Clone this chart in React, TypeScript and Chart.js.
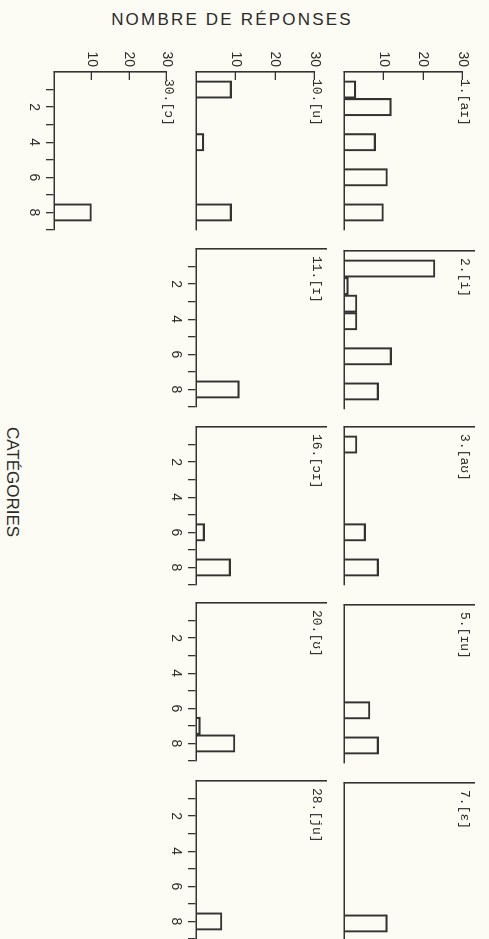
import React, { useEffect, useRef } from 'react';
import { Chart, registerables } from 'chart.js';

Chart.register(...registerables);

// ---------- data ----------
// category positions on each panel's axis (0 and 9 are the axis ends)
const AXIS_POSITIONS = ['0', '1', '2', '3', '4', '5', '6', '7', '8', '9'];
const CATEGORY_TICK_LABELS = ['2', '4', '6', '8'];
const VALUE_TICK_LABELS = [10, 20, 30];
const VALUE_MAX = 30;

// number of responses per category 1..8
const P1_AI = [3, 12, 0, 8, 0, 11, 0, 10];
const P2_I = [21, 1, 3, 3, 0, 11, 0, 8];
const P3_AU = [3, 0, 0, 0, 0, 5, 0, 8];
const P5_IU = [0, 0, 0, 0, 0, 6, 0, 8];
const P7_E = [0, 0, 0, 0, 0, 0, 0, 10];
const P10_U = [9, 0, 0, 2, 0, 0, 0, 9];
const P11_I = [0, 0, 0, 0, 0, 0, 0, 10];
const P16_OI = [0, 0, 0, 0, 0, 2, 0, 8];
const P20_U = [0, 0, 0, 0, 0, 0, 1, 9];
const P28_JU = [0, 0, 0, 0, 0, 0, 0, 6];
const P30_O = [0, 0, 0, 0, 0, 0, 0, 10];

const TITLES = ['1.[aɪ]', '2.[i]', '3.[aʊ]', '5.[ɪu]', '7.[ɛ]', '10.[u]', '11.[ɪ]', '16.[ɔɪ]', '20.[ʊ]', '28.[ju]', '30.[ɔ]'];
const SERIES = [P1_AI, P2_I, P3_AU, P5_IU, P7_E, P10_U, P11_I, P16_OI, P20_U, P28_JU, P30_O];

// ---------- layout (original, unrotated page coordinates) ----------
const ROWS = [
  { top: 15, base: 145 },
  { top: 163, base: 293 },
  { top: 311, base: 435 },
];
const COLS_ROW = [
  [72, 251, 427, 605, 783],
  [72, 249, 427, 603, 781],
  [72],
];
// row, col, show value ticks, show category ticks
const PLACEMENT: [number, number, boolean, boolean][] = [
  [0, 0, true, false],
  [0, 1, false, false],
  [0, 2, false, false],
  [0, 3, false, false],
  [0, 4, false, false],
  [1, 0, true, false],
  [1, 1, false, true],
  [1, 2, false, true],
  [1, 3, false, true],
  [1, 4, false, true],
  [2, 0, true, true],
];

const PLOT_W = 158;
const PAD_L = 32;
const PAD_T = 10;
const PAD_R = 6;
const PAD_B = 32;

const BG = '#fdfcf4';
const LINE = '#333333';
const TEXT = '#2a2a2a';
const SANS = '"Liberation Sans", Arial, Helvetica, sans-serif';
const MONO = '"Liberation Mono", "DejaVu Sans Mono", monospace';

type PanelProps = {
  values: number[];
  title: string;
  left: number;
  top: number;
  plotH: number;
  showY: boolean;
  showX: boolean;
};

function Panel({ values, title, left, top, plotH, showY, showX }: PanelProps) {
  const ref = useRef<HTMLCanvasElement | null>(null);
  const width = PAD_L + PLOT_W + PAD_R;
  const height = PAD_T + plotH + PAD_B;

  useEffect(() => {
    if (!ref.current) return;
    const data = [null, ...values.map((v) => (v ? v : null)), null];
    const chart = new Chart(ref.current, {
      type: 'bar',
      data: {
        labels: AXIS_POSITIONS,
        datasets: [
          {
            data: data as any,
            backgroundColor: 'rgba(0,0,0,0)',
            borderColor: LINE,
            borderWidth: 1.5,
            borderSkipped: 'start',
            barPercentage: 1,
            categoryPercentage: 1,
          },
        ],
      },
      options: {
        animation: false,
        responsive: false,
        maintainAspectRatio: false,
        devicePixelRatio: 1,
        layout: { padding: { top: PAD_T, right: PAD_R, left: 0, bottom: 0 } },
        plugins: { legend: { display: false }, tooltip: { enabled: false }, title: { display: false } },
        scales: {
          x: {
            type: 'category',
            offset: false,
            grid: {
              display: showX,
              offset: false,
              drawOnChartArea: false,
              drawTicks: showX,
              tickLength: 8,
              color: (c: any) => (c.index === 0 ? 'rgba(0,0,0,0)' : LINE),
              lineWidth: 1.3,
            },
            border: { display: true, color: LINE, width: 1.6 },
            ticks: {
              display: showX,
              autoSkip: false,
              maxRotation: 0,
              minRotation: 0,
              padding: 4,
              color: TEXT,
              font: { family: SANS, size: 14 },
              callback: (_v: any, i: number) =>
                CATEGORY_TICK_LABELS.includes(AXIS_POSITIONS[i]) ? AXIS_POSITIONS[i] : '',
            },
            afterFit: (s: any) => {
              s.height = PAD_B;
            },
          },
          y: {
            type: 'linear',
            min: 0,
            max: VALUE_MAX,
            grid: {
              display: showY,
              drawOnChartArea: false,
              drawTicks: showY,
              tickLength: -8,
              color: (c: any) => (c.tick && c.tick.value === 0 ? 'rgba(0,0,0,0)' : LINE),
              lineWidth: 1.3,
            },
            border: { display: true, color: LINE, width: 1.6 },
            ticks: {
              display: showY,
              stepSize: 10,
              padding: 13,
              color: TEXT,
              font: { family: SANS, size: 14 },
              callback: (v: any) => (VALUE_TICK_LABELS.includes(Number(v)) ? String(v) : ''),
            },
            afterFit: (s: any) => {
              s.width = PAD_L;
            },
          },
        },
      },
    });
    return () => chart.destroy();
  }, [values, showX, showY, plotH]);

  return (
    <>
      <canvas
        ref={ref}
        width={width}
        height={height}
        style={{ position: 'absolute', left: left - PAD_L, top: top - PAD_T, width, height }}
      />
      <div
        style={{
          position: 'absolute',
          left: left + 7,
          top: top + 2,
          font: `13px ${MONO}`,
          lineHeight: '16px',
          color: TEXT,
          whiteSpace: 'nowrap',
        }}
      >
        {title}
      </div>
    </>
  );
}

export default function App() {
  return (
    <div
      style={{
        position: 'absolute',
        left: 0,
        top: 0,
        width: 489,
        height: 939,
        background: BG,
        overflow: 'hidden',
      }}
    >
      <div
        style={{
          position: 'absolute',
          left: 232,
          top: 20,
          transform: 'translate(-50%, -50%)',
          font: `17px ${SANS}`,
          letterSpacing: '2.2px',
          color: TEXT,
          whiteSpace: 'nowrap',
        }}
      >
        NOMBRE DE RÉPONSES
      </div>
      <div
        style={{
          position: 'absolute',
          left: 0,
          top: 0,
          width: 939,
          height: 489,
          transformOrigin: '0 0',
          transform: 'translateX(489px) rotate(90deg)',
        }}
      >
        {PLACEMENT.map(([r, c, sy, sx], i) => (
          <Panel
            key={TITLES[i]}
            values={SERIES[i]}
            title={TITLES[i]}
            left={COLS_ROW[r][c]}
            top={ROWS[r].top}
            plotH={ROWS[r].base - ROWS[r].top}
            showY={sy}
            showX={sx}
          />
        ))}
        <div
          style={{
            position: 'absolute',
            left: 482,
            top: 477,
            transform: 'translate(-50%, -50%)',
            font: `17px ${SANS}`,
            color: TEXT,
            whiteSpace: 'nowrap',
          }}
        >
          CATÉGORIES
        </div>
      </div>
    </div>
  );
}
